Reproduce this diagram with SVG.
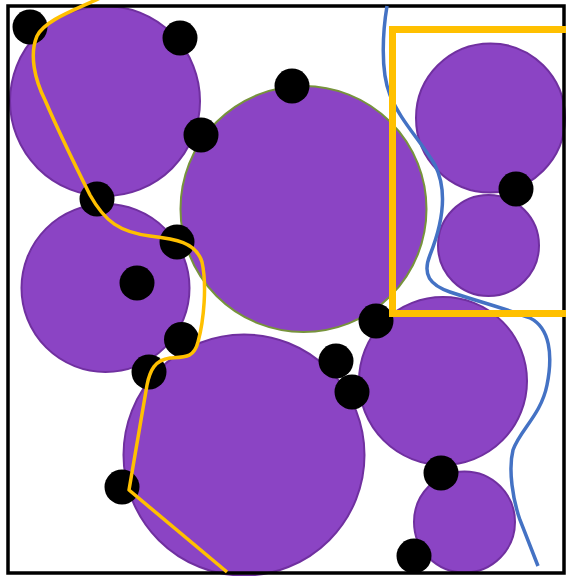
<svg xmlns="http://www.w3.org/2000/svg" width="566" height="576" viewBox="0 0 566 576">
<style>
.c{fill:#8B44C4;stroke:#7030A0;stroke-width:2}
.g{fill:#8B44C4;stroke:#77933C;stroke-width:2}
.d{fill:#000}
.y{fill:none;stroke:#FFC000;stroke-width:3.5;stroke-linejoin:round}
.b{fill:none;stroke:#4472C4;stroke-width:3.5}
.r{fill:none;stroke:#FFC000;stroke-width:7}
</style>
<rect x="0" y="0" width="566" height="576" fill="#fff"/>
<g id="circles">
<circle id="c1" class="c" cx="105" cy="101" r="95"/>
<circle id="c3" class="c" cx="105.5" cy="288" r="84"/>
<circle id="c2" class="g" cx="303.5" cy="209" r="123"/>
<circle id="c4" class="c" cx="244" cy="455" r="120.5"/>
<circle id="c5" class="c" cx="490.5" cy="118" r="74.5"/>
<circle id="c6" class="c" cx="488.5" cy="245.5" r="50.5"/>
<circle id="c7" class="c" cx="443" cy="381" r="84"/>
<circle id="c8" class="c" cx="464.5" cy="522" r="50.5"/>
</g>
<g id="dots">
<circle class="d" cx="30" cy="27" r="17.5"/>
<circle class="d" cx="180" cy="38" r="17.5"/>
<circle class="d" cx="292" cy="86" r="17.5"/>
<circle class="d" cx="201" cy="135" r="17.5"/>
<circle class="d" cx="97" cy="199" r="17.5"/>
<circle class="d" cx="177" cy="242" r="17.5"/>
<circle class="d" cx="137" cy="283" r="17.5"/>
<circle class="d" cx="181.5" cy="339.5" r="17.5"/>
<circle class="d" cx="149" cy="372" r="17.5"/>
<circle class="d" cx="122" cy="487" r="17.5"/>
<circle class="d" cx="336" cy="361" r="17.5"/>
<circle class="d" cx="352" cy="392" r="17.5"/>
<circle class="d" cx="376" cy="321" r="17.5"/>
<circle class="d" cx="516" cy="189" r="17.5"/>
<circle class="d" cx="441" cy="473" r="17.5"/>
<circle class="d" cx="414" cy="556" r="17.5"/>
</g>
<rect id="border" x="8" y="6" width="556" height="567" fill="none" stroke="#000" stroke-width="3.5"/>
<g id="connectors">
<path class="b" d="M387,6 C383,30 380,70 390,95 C400,120 420,140 435,165 C450,195 440,230 430,255 C422,275 430,285 450,292 C480,302 510,310 530,318 C550,328 553,355 547,385 C541,415 520,430 513,450 C508,470 513,500 520,520 L538,566"/>
<path class="y" d="M100,-2 C75,10 45,20 37,36 C29,55 35,80 45,100 C60,135 75,165 90,195 C105,222 120,232 150,236 C175,239 196,242 202,262 C207,285 204,320 198,342 C194,358 185,357 170,358 C155,360 150,370 147,385 L129,490 L227,572"/>
<path class="r" d="M566,29.5 H392.5 V313.5 H566"/>
</g>
</svg>
